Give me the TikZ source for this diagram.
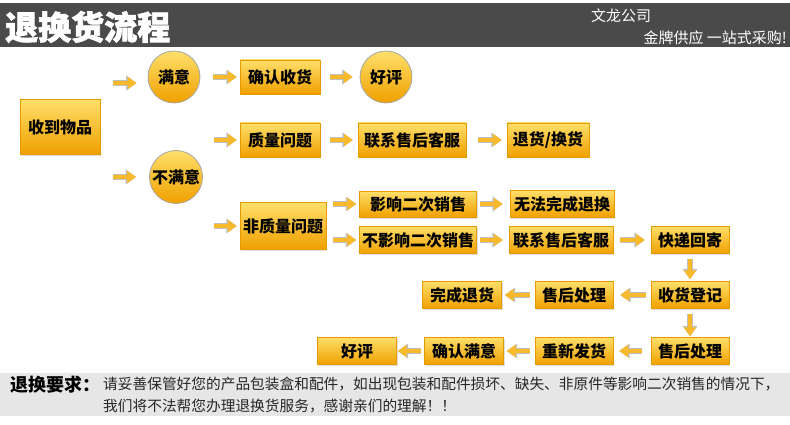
\documentclass[tikz,border=0pt]{standalone}
\usepackage{fontspec}
\newfontfamily\cjk{Noto Sans CJK SC}
\newfontfamily\cjktitle{Noto Sans CJK SC}[BoldFeatures={FakeBold=2}]
\usetikzlibrary{arrows.meta,shadows}

\definecolor{boxtop}{HTML}{FFDF6A}
\definecolor{boxmid}{HTML}{FFC414}
\definecolor{boxbot}{HTML}{F0A000}
\definecolor{boxline}{HTML}{E59A00}
\definecolor{arrowfill}{HTML}{F8BA2C}
\definecolor{headbar}{HTML}{4A4A4A}
\definecolor{notebar}{HTML}{E6E6E6}

\tikzset{
    stepbox/.style={rectangle, draw=boxline, top color=boxtop, middle color=boxmid, bottom color=boxbot,
        inner sep=0pt, minimum height=27pt,
        font=\cjk\bfseries\fontsize{16}{18}\selectfont,
        drop shadow={shadow xshift=1pt, shadow yshift=-1.5pt, opacity=0.25}},
    choice/.style={circle, draw=gray!70, line width=0.8pt, top color=boxtop, middle color=boxmid,
        bottom color=boxbot, minimum size=52pt, inner sep=0pt,
        font=\cjk\bfseries\fontsize{16}{18}\selectfont},
    fat/.style={draw=arrowfill, line width=3.6pt, shorten <=5pt, shorten >=4pt,
        -{Triangle[length=9pt,width=12pt]},
        preaction={draw=gray!50, line width=5.2pt, -{Triangle[length=10.5pt,width=14.5pt]}}}
}

\begin{document}
\begin{tikzpicture}[x=1pt, y=1pt]
    \useasboundingbox (0,0) rectangle (790,-425);
    % header and note bars
    \fill[headbar] (0,-3) rectangle (790,-47);
    \fill[notebar] (0,-373) rectangle (790,-416);
    \node[text=white, font=\cjktitle\bfseries\fontsize{33}{36}\selectfont, anchor=west, inner sep=0pt] at (5,-27) (title) {退换货流程};
    \node[text=white, font=\cjk\fontsize{15}{17}\selectfont, anchor=west, inner sep=0pt] at (591,-16) (company) {文龙公司};
    \node[text=white, font=\cjk\fontsize{15}{17}\selectfont, anchor=east, inner sep=0pt] at (787,-38) (slogan) {金牌供应 一站式采购!};

    % flow
    \node[stepbox, minimum width=80pt, minimum height=55pt] at (60,-127) (recv) {收到物品};
    \node[choice] at (174,-77) (sat) {满意};
    \node[stepbox, minimum width=80pt, minimum height=34pt] at (280,-77) (confirm) {确认收货};
    \node[choice] at (386,-77) (good) {好评};
    \node[choice, minimum size=53pt] at (176,-177) (unsat) {不满意};
    \node[stepbox, minimum width=80pt, minimum height=34pt] at (280,-140) (qual) {质量问题};
    \node[stepbox, minimum width=108pt, minimum height=34pt] at (412,-140) (cs1) {联系售后客服};
    \node[stepbox, minimum width=82pt, minimum height=34pt] at (548,-140) (ret) {退货/换货};
    \node[stepbox, minimum width=86pt, minimum height=47pt] at (283,-226) (nonq) {非质量问题};
    \node[stepbox, minimum width=117pt, minimum height=26pt] at (418,-204) (aff) {影响二次销售};
    \node[stepbox, minimum width=117pt] at (418,-240) (naff) {不影响二次销售};
    \node[stepbox, minimum width=104pt] at (562,-204) (nofin) {无法完成退换};
    \node[stepbox, minimum width=104pt] at (561,-240) (cs2) {联系售后客服};
    \node[stepbox, minimum width=78pt] at (690,-240) (exp) {快递回寄};
    \node[stepbox, minimum width=78pt] at (690,-295) (recvreg) {收货登记};
    \node[stepbox, minimum width=78pt] at (574,-295) (proc1) {售后处理};
    \node[stepbox, minimum width=79pt] at (462,-295) (done) {完成退货};
    \node[stepbox, minimum width=78pt] at (690,-351) (proc2) {售后处理};
    \node[stepbox, minimum width=78pt] at (574,-351) (resend) {重新发货};
    \node[stepbox, minimum width=79pt] at (464,-351) (okay) {确认满意};
    \node[stepbox, minimum width=79pt] at (357,-351) (good2) {好评};

    \path
        (recv.east |- 0,-83) edge[fat, shorten <=13pt, shorten >=11pt] (sat.west |- 0,-83)
        (recv.east |- unsat.west) edge[fat, shorten <=13pt, shorten >=13pt] (unsat.west)
        (sat) edge[fat, shorten <=13pt, shorten >=3pt] (confirm)
        (confirm) edge[fat, shorten <=10pt, shorten >=7pt] (good)
        (unsat.east |- qual.west) edge[fat, shorten <=11pt, shorten >=3pt] (qual.west)
        (unsat.east |- nonq.west) edge[fat, shorten <=11pt, shorten >=3pt] (nonq.west)
        (qual) edge[fat, shorten <=10pt, shorten >=5pt] (cs1)
        (cs1) edge[fat, shorten <=12pt, shorten >=5pt] (ret)
        (nonq.east |- aff.west) edge[fat, shorten <=7pt, shorten >=3pt] (aff.west)
        (nonq.east |- naff.west) edge[fat, shorten <=7pt, shorten >=3pt] (naff.west)
        (aff) edge[fat, shorten <=3pt, shorten >=7pt] (nofin)
        (naff) edge[fat, shorten <=3pt, shorten >=6pt] (cs2)
        (cs2) edge[fat, shorten <=7pt, shorten >=6pt] (exp)
        (exp) edge[fat, shorten <=5pt, shorten >=2pt] (recvreg)
        (recvreg) edge[fat, shorten <=5pt, shorten >=7pt] (proc1)
        (proc1) edge[fat, shorten <=5pt, shorten >=3pt] (done)
        (recvreg) edge[fat, shorten <=5pt, shorten >=1pt] (proc2)
        (proc2) edge[fat, shorten <=9pt, shorten >=6pt] (resend)
        (resend) edge[fat, shorten <=5pt, shorten >=3pt] (okay)
        (okay) edge[fat, shorten <=3pt, shorten >=1pt] (good2)
        ;

    % note
    \node[font=\cjk\bfseries\fontsize{18}{20}\selectfont, anchor=west, inner sep=0pt] at (10,-385) (notehead) {退换要求：};
    \node[font=\cjk\fontsize{14.7}{17}\selectfont, anchor=west, inner sep=0pt, text=black!85] at (103,-384) (note1) {请妥善保管好您的产品包装盒和配件，如出现包装和配件损坏、缺失、非原件等影响二次销售的情况下，};
    \node[font=\cjk\fontsize{14.7}{17}\selectfont, anchor=west, inner sep=0pt, text=black!85] at (103,-406) (note2) {我们将不法帮您办理退换货服务，感谢亲们的理解！！};
\end{tikzpicture}
\end{document}
